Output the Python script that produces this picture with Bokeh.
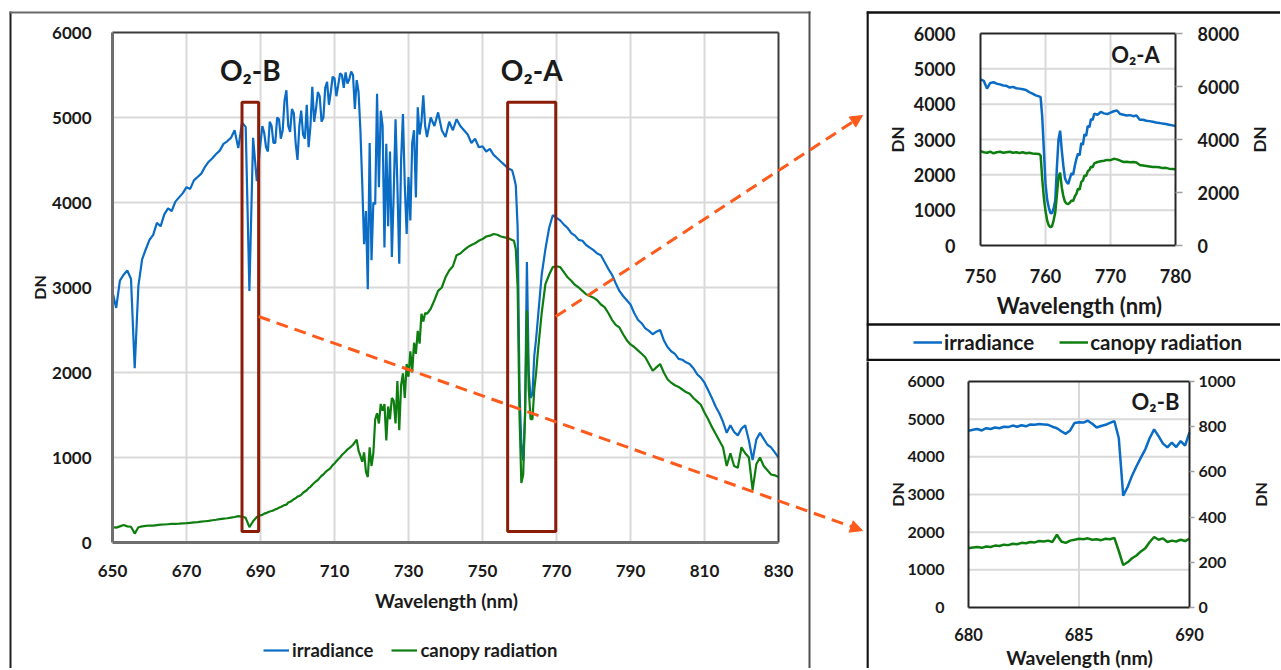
import math
from bokeh.plotting import figure
from bokeh.models import (Range1d, LinearAxis, FixedTicker, Legend, LegendItem,
                          Label, Arrow, NormalHead, BoxAnnotation)
from bokeh.layouts import row, column
from bokeh.embed import file_html
from bokeh.resources import INLINE

# ---------------- data: main spectrum (650-830 nm) ----------------
wl_main = [650, 651, 652, 653, 654, 655, 656, 657, 658, 659,
           660, 661, 662, 663, 664, 665, 666, 667, 668, 669,
           670, 671, 672, 673, 674, 675, 676, 677, 678, 679,
           680, 681, 682, 683, 684, 685, 686, 687, 688, 689,
           690, 690.5, 691, 691.5, 692, 692.5, 693, 693.5, 694, 694.5,
           695, 695.5, 696, 696.5, 697, 697.5, 698, 698.5, 699, 699.5,
           700, 700.5, 701, 701.5, 702, 702.5, 703, 703.5, 704, 704.5,
           705, 705.5, 706, 706.5, 707, 707.5, 708, 708.5, 709, 709.5,
           710, 710.5, 711, 711.5, 712, 712.5, 713, 713.5, 714, 714.5, 715,
           715.5, 716, 716.5, 717, 717.5, 718, 718.5, 719, 719.5, 720,
           720.5, 721, 721.5, 722, 722.5, 723, 723.5, 724, 724.5, 725,
           725.5, 726, 726.5, 727, 727.5, 728, 728.5, 729, 729.5, 730,
           730.5, 731, 731.5, 732, 732.5, 733, 733.5, 734, 734.5, 735,
           736, 737, 738, 739, 740, 741, 742, 743, 744, 745,
           746, 747, 748, 749, 750, 751, 752, 753, 754, 755,
           756, 757, 758,
           758.5, 759, 759.5, 760, 760.5, 761, 761.5, 762, 762.5, 763, 763.5, 764, 764.5, 765,
           766, 767, 768, 769, 770, 771, 772, 773, 774, 775,
           776, 777, 778, 779, 780, 781, 782, 783, 784, 785,
           786, 787, 788, 789, 790, 791, 792, 793, 794, 795,
           796, 797, 798, 799, 800, 801, 802, 803, 804, 805,
           806, 807, 808, 809, 810, 811, 812, 813, 814, 815,
           816, 817, 818, 819, 820, 821, 822, 823, 824, 825,
           826, 827, 828, 829, 830]

irradiance_main = [2950, 2760, 3080, 3150, 3200, 3100, 2050, 3020, 3330, 3450,
                   3560, 3620, 3760, 3720, 3860, 3930, 3900, 4010, 4060, 4110,
                   4180, 4160, 4260, 4300, 4340, 4420, 4480, 4520, 4570, 4610,
                   4690, 4720, 4760, 4850, 4640, 4940, 4890, 2960, 4760, 4250,
                   4700, 4900, 4820, 4650, 4600, 4950, 4900, 4700, 4700, 5000,
                   4980, 4750, 4850, 5200, 5320, 4900, 4830, 5100, 5050, 4700,
                   4500, 4900, 5080, 4800, 4750, 5150, 4650, 4900, 5360, 4950,
                   5100, 5300, 5250, 4950, 5000, 5350, 5420, 5150, 5300, 5480,
                   5460, 5250, 5380, 5520, 5500, 5350, 5530, 5400, 5450, 5540, 5500,
                   5100, 5440, 5300, 4850, 4220, 3510, 3900, 2980, 4700, 3320,
                   4000, 3980, 5280, 4180, 5080, 4900, 3470, 4690, 3720, 4600,
                   3360, 4100, 4980, 4200, 3280, 4500, 5040, 4200, 3630, 4300,
                   3790, 4700, 4850, 4060, 5120, 4800, 4950, 5260, 4900, 4770,
                   5000, 4900, 5060, 4850, 4770, 4950, 4850, 4980, 4900, 4850,
                   4800, 4700, 4750, 4650, 4660, 4600, 4630, 4560, 4520, 4480,
                   4440, 4400, 4380,
                   4300, 4200, 3700, 1800, 1150, 965, 1500, 3300, 2000, 1700, 1750, 2200, 2400, 2650,
                   3150, 3450, 3700, 3850, 3820, 3790, 3740, 3700, 3640, 3610,
                   3560, 3550, 3500, 3470, 3440, 3400, 3380, 3300, 3220, 3150,
                   3050, 2960, 2900, 2850, 2800, 2700, 2620, 2580, 2520, 2490,
                   2450, 2480, 2500, 2380, 2300, 2250, 2220, 2160, 2150, 2120,
                   2100, 2050, 1980, 1940, 1880, 1790, 1700, 1600, 1520, 1420,
                   1290, 1380, 1300, 1260, 1340, 1380, 1200, 970, 1210, 1290,
                   1220, 1150, 1120, 1060, 1000]

canopy_main = [180, 175, 190, 205, 190, 185, 105, 180, 190, 195,
               200, 198, 205, 210, 212, 215, 218, 220, 222, 225,
               228, 232, 236, 240, 245, 250, 255, 262, 268, 275,
               280, 285, 292, 300, 310, 305, 290, 180, 250, 300,
               320, 325, 340, 345, 355, 365, 370, 378, 390, 398,
               410, 418, 430, 440, 445, 470, 480, 492, 510, 520,
               540, 548, 560, 585, 600, 615, 640, 655, 680, 700,
               720, 735, 760, 785, 800, 825, 845, 860, 880, 910,
               930, 955, 980, 1000, 1030, 1050, 1070, 1095, 1110, 1130, 1150,
               1180, 1210, 1080, 1020, 950, 1060, 830, 770, 1120, 900,
               1050, 1450, 1520, 1400, 1630, 1550, 1630, 1200, 1600, 1450,
               1700, 1670, 1400, 1900, 1320, 1850, 1990, 1700, 2100, 1950,
               2250, 2000, 2350, 2220, 2490, 2340, 2690, 2600, 2700, 2690,
               2750, 2850, 2960, 3000, 3120, 3200, 3250, 3380, 3400, 3440,
               3475, 3500, 3520, 3550, 3570, 3600, 3610, 3630, 3620, 3600,
               3590, 3580, 3560,
               3550, 3450, 3000, 1500, 700, 800, 1500, 2730, 1800, 1450, 1450, 1800, 2000, 2260,
               2700, 3040, 3150, 3240, 3250, 3240, 3180, 3120, 3080, 3030,
               3000, 2960, 2920, 2900, 2880, 2850, 2800, 2770, 2700, 2620,
               2560, 2530, 2450, 2380, 2330, 2300, 2260, 2220, 2180, 2100,
               2020, 2060, 2100, 2000, 1920, 1880, 1850, 1830, 1800, 1770,
               1750, 1700, 1660, 1620, 1530, 1450, 1360, 1280, 1200, 1120,
               900, 1050, 900, 880, 1120, 1050, 1000, 620, 920, 1000,
               900, 850, 800, 790, 770]

# ---------------- data: O2-A inset (750-780 nm) ----------------
wl_a = [750, 750.5, 751, 751.5, 752, 752.5, 753, 753.5, 754, 754.5,
        755, 755.5, 756, 756.5, 757, 757.5, 758, 758.5, 759,
        759.25, 759.5, 759.75, 760, 760.25, 760.5, 760.75, 761, 761.25, 761.5,
        761.75, 762, 762.25, 762.5, 762.75, 763, 763.25, 763.5, 763.75, 764,
        764.25, 764.5, 764.75, 765, 765.25, 765.5, 765.75, 766, 766.25, 766.5,
        766.75, 767, 767.25, 767.5,
        768, 768.5, 769, 769.5, 770, 770.5, 771, 771.5, 772, 772.5,
        773, 773.5, 774, 774.5, 775, 775.5, 776, 776.5, 777, 777.5,
        778, 778.5, 779, 779.5, 780]
irradiance_a = [4700, 4660, 4440, 4600, 4620, 4580, 4560, 4530, 4520, 4470,
                4490, 4450, 4440, 4420, 4400, 4340, 4300, 4250, 4220,
                4200, 3630, 2690, 1750, 1300, 1080, 920, 910, 1050, 1280,
                2200, 3000, 3250, 2700, 2250, 1900, 1800, 1740, 1900, 2050,
                2000, 2250, 2450, 2600, 2550, 2900, 2850, 3150, 3100, 3380,
                3350, 3580, 3550, 3730,
                3700, 3780, 3740, 3720, 3760, 3800, 3820, 3720, 3700, 3680,
                3690, 3660, 3680, 3560, 3560, 3530, 3520, 3500, 3480, 3470,
                3450, 3440, 3420, 3400, 3380]
canopy_a = [3560, 3520, 3500, 3540, 3480, 3520, 3540, 3500, 3520, 3540,
            3500, 3520, 3490, 3520, 3480, 3500, 3470, 3460, 3450,
            3400, 2500, 1800, 1300, 950, 760, 690, 720, 950, 1250,
            1900, 2600, 2750, 2200, 1850, 1650, 1580, 1560, 1620, 1700,
            1680, 1850, 1950, 2150, 2100, 2400, 2450, 2650, 2620, 2800,
            2850, 2980, 2950, 3100,
            3150, 3180, 3200, 3230, 3220, 3270, 3250, 3200, 3150, 3160,
            3140, 3150, 3130, 3040, 3020, 3000, 2980, 2960, 2960, 2950,
            2920, 2930, 2900, 2890, 2880]

# ---------------- data: O2-B inset (680-690 nm) ----------------
wl_b = [680.0, 680.2, 680.4, 680.6, 680.8, 681.0, 681.2, 681.4, 681.6, 681.8,
        682.0, 682.2, 682.4, 682.6, 682.8, 683.0, 683.2, 683.4, 683.6, 683.8,
        684.0, 684.2, 684.4, 684.6, 684.8, 685.0, 685.2, 685.4, 685.6, 685.8,
        686.0, 686.2, 686.4, 686.6, 686.8, 687.0, 687.2, 687.4, 687.6, 687.8,
        688.0, 688.2, 688.4, 688.6, 688.8, 689.0, 689.2, 689.4, 689.6, 689.8,
        690.0]
irradiance_b = [4690, 4720, 4740, 4700, 4760, 4740, 4780, 4760, 4800, 4790,
                4830, 4800, 4840, 4810, 4860, 4850, 4870, 4860, 4850, 4800,
                4760, 4680, 4610, 4700, 4900, 4920, 4910, 4960, 4880, 4780,
                4820, 4850, 4900, 4950, 4500, 2970, 3200, 3500, 3750, 3980,
                4200, 4500, 4730, 4550, 4350, 4250, 4380, 4260, 4420, 4300,
                4650]
canopy_b = [262, 265, 268, 264, 270, 268, 274, 272, 278, 276,
            282, 280, 286, 284, 290, 288, 294, 292, 296, 290,
            322, 292, 286, 296, 300, 304, 302, 306, 300, 302,
            298, 304, 302, 308, 250, 188, 200, 218, 230, 248,
            262, 290, 312, 300, 306, 290, 296, 292, 300, 294,
            305]

# ticks / labels
main_x_ticks = [650, 670, 690, 710, 730, 750, 770, 790, 810, 830]
dn_ticks = [0, 1000, 2000, 3000, 4000, 5000, 6000]
a_x_ticks = [750, 760, 770, 780]
a_right_ticks = [0, 2000, 4000, 6000, 8000]
b_x_ticks = [680, 685, 690]
b_right_ticks = [0, 200, 400, 600, 800, 1000]
series_names = ["irradiance", "canopy radiation"]
x_title = "Wavelength (nm)"
y_title = "DN"

# O2 absorption windows marked on the main chart (nm, DN)
O2B_BOX = (685.0, 689.5, 130, 5180)
O2A_BOX = (756.8, 769.8, 130, 5180)

# ---------------- styles ----------------
FONT = "Lato"
BLUE = "#0A6CC4"
GREEN = "#0E7E10"
BROWN = "#8A1C08"
ORANGE = "#FF5A1C"
GRID = "#D9D9D9"
TXT = "#1A1A1A"

# page pixel -> data helpers (used only for decorative placement)
def mx(px): return 650 + (px - 112) * 180 / 666
def my(py): return (542 - py) * 6000 / 510
def ax_(px): return 750 + (px - 980) * 30 / 195
def ay(py): return (245 - py) * 6000 / 212
def bx(px): return 680 + (px - 968) * 10 / 221
def by(py): return (607 - py) * 6000 / 226


def base_fig(w, h, xr, yr):
    f = figure(width=w, height=h, x_range=Range1d(*xr), y_range=Range1d(*yr),
               output_backend="svg", toolbar_location=None, min_border=0,
               min_border_left=0, min_border_right=0, min_border_top=0, min_border_bottom=0)
    f.outline_line_color = None
    f.xgrid.visible = False
    f.ygrid.visible = False
    f.background_fill_color = "white"
    f.border_fill_color = "white"
    return f


def style_axis(ax, size, standoff, ticks_out=0):
    ax.major_label_text_font = FONT
    ax.major_label_text_font_style = "bold"
    ax.major_label_text_font_size = size
    ax.major_label_text_color = TXT
    ax.major_label_standoff = standoff
    ax.minor_tick_line_color = None
    ax.axis_line_color = None
    if ticks_out:
        ax.major_tick_out = ticks_out
        ax.major_tick_in = 0
        ax.major_tick_line_color = "#A0A0A0"
        ax.major_tick_line_width = 1.5
    else:
        ax.major_tick_line_color = None


def seg(f, x0, y0, x1, y1, color="#1A1A1A", width=2, **kw):
    f.segment(x0=[x0], y0=[y0], x1=[x1], y1=[y1], line_color=color, line_width=width, **kw)


def grid(f, xt, x0, x1, yt, y0, y1):
    f.segment(x0=xt, y0=[y0] * len(xt), x1=xt, y1=[y1] * len(xt), line_color=GRID, line_width=2)
    f.segment(x0=[x0] * len(yt), y0=yt, x1=[x1] * len(yt), y1=yt, line_color=GRID, line_width=2)


def text(f, x, y, s, size, angle=0, align="center", baseline="middle"):
    f.add_layout(Label(x=x, y=y, text=s, text_align=align, text_baseline=baseline, angle=angle,
                       text_font=FONT, text_font_style="bold", text_font_size=size, text_color=TXT))


# ================= main chart =================
W_MAIN, H = 866, 668
p = base_fig(W_MAIN, H, (mx(0), mx(W_MAIN)), (my(H), my(0)))
p.xaxis.ticker = FixedTicker(ticks=main_x_ticks)
p.yaxis.ticker = FixedTicker(ticks=dn_ticks)
p.xaxis.fixed_location = dn_ticks[0]
p.yaxis.fixed_location = main_x_ticks[0]
style_axis(p.xaxis[0], "17px", 16)
style_axis(p.yaxis[0], "17px", 15)

X0, X1, Y0, Y1 = main_x_ticks[0], main_x_ticks[-1], dn_ticks[0], dn_ticks[-1]
grid(p, main_x_ticks[1:-1], X0, X1, dn_ticks[1:-1], Y0, Y1)
r_irr = p.line(wl_main, irradiance_main, line_color=BLUE, line_width=2.2)
r_can = p.line(wl_main, canopy_main, line_color=GREEN, line_width=2.2)
# plot-area frame
seg(p, X0, Y1, X1, Y1, "#3C3C3C", 2)
seg(p, X1, Y0, X1, Y1, "#3C3C3C", 2)
seg(p, X0, Y0, X1, Y0, "#6E6E6E", 3)
seg(p, X0, Y0, X0, Y1, "#6E6E6E", 3)

for box in (O2B_BOX, O2A_BOX):
    p.add_layout(BoxAnnotation(left=box[0], right=box[1], bottom=box[2], top=box[3],
                               fill_alpha=0, line_color=BROWN, line_width=3, line_alpha=1))

text(p, (O2B_BOX[0] + O2B_BOX[1]) / 2, my(69), "O₂-B", "28px", baseline="alphabetic")
text(p, (O2A_BOX[0] + O2A_BOX[1]) / 2, my(69), "O₂-A", "28px", baseline="alphabetic")
text(p, mx(39), my(287), y_title, "16px", angle=math.pi / 2)
text(p, mx(446), my(600), x_title, "19px")

# dashed pointer arrows to the insets
for (xs, ys, xe, ye) in [(O2A_BOX[1], my(316), mx(862), my(115)),
                         (O2B_BOX[1], my(316), mx(862), my(530))]:
    p.add_layout(Arrow(x_start=xs, y_start=ys, x_end=xe, y_end=ye,
                       line_color=ORANGE, line_width=3, line_dash="12 7",
                       end=NormalHead(size=12, fill_color=ORANGE, line_color=ORANGE, line_width=1)))

# outer chart border
seg(p, mx(10), my(11), mx(10), my(H + 5), "#202020", 2)
seg(p, mx(9), my(12), mx(810), my(12), "#6A6A6A", 2)
seg(p, mx(809), my(11), mx(809), my(H + 5), "#505050", 2)

leg = Legend(items=[LegendItem(label=series_names[0], renderers=[r_irr]),
                    LegendItem(label=series_names[1], renderers=[r_can])],
             orientation="horizontal", location=(263, 7),
             background_fill_alpha=0, border_line_alpha=0, padding=0, margin=0,
             glyph_width=26, label_standoff=3, spacing=18,
             label_text_font=FONT, label_text_font_style="bold", label_text_font_size="18.5px",
             label_text_color=TXT)
p.add_layout(leg)

# ================= inset O2-A =================
W_IN, H_A = 414, 361
pa = base_fig(W_IN, H_A, (ax_(866), ax_(866 + W_IN)), (ay(H_A), ay(0)))
pa.extra_y_ranges = {"right": Range1d(ay(H_A) * 8000 / 6000, ay(0) * 8000 / 6000)}
pa.xaxis.ticker = FixedTicker(ticks=a_x_ticks)
pa.yaxis.ticker = FixedTicker(ticks=dn_ticks)
pa.xaxis.fixed_location = dn_ticks[0]
pa.yaxis.fixed_location = a_x_ticks[0]
style_axis(pa.xaxis[0], "18px", 17)
style_axis(pa.yaxis[0], "18px", 19)
ra_axis = LinearAxis(y_range_name="right", ticker=FixedTicker(ticks=a_right_ticks),
                     fixed_location=a_x_ticks[-1])
style_axis(ra_axis, "18px", 15, ticks_out=7)
pa.add_layout(ra_axis, "right")

AX0, AX1 = a_x_ticks[0], a_x_ticks[-1]
grid(pa, a_x_ticks[1:-1], AX0, AX1, dn_ticks[1:-1], Y0, Y1)
ra_irr = pa.line(wl_a, irradiance_a, line_color=BLUE, line_width=2.5)
ra_can = pa.line(wl_a, canopy_a, line_color=GREEN, line_width=2.5, y_range_name="right")
for (a, b, c, d) in [(AX0, Y0, AX1, Y0), (AX0, Y1, AX1, Y1), (AX0, Y0, AX0, Y1), (AX1, Y0, AX1, Y1)]:
    seg(pa, a, b, c, d, "#262626", 2)

text(pa, ax_(1135), ay(54), "O₂-A", "22px", baseline="alphabetic")
text(pa, ax_(897), ay(139), y_title, "17px", angle=math.pi / 2)
text(pa, ax_(1259), ay(139), y_title, "17px", angle=math.pi / 2)
text(pa, ax_(1079), ay(305), x_title, "22px")

leg2 = Legend(items=[LegendItem(label=series_names[0], renderers=[ra_irr]),
                     LegendItem(label=series_names[1], renderers=[ra_can])],
              orientation="horizontal", location=(47, 7),
              background_fill_alpha=0, border_line_alpha=0, padding=0, margin=0,
              glyph_width=29, label_standoff=2, spacing=25,
              label_text_font=FONT, label_text_font_style="bold", label_text_font_size="20.5px",
              label_text_color=TXT)
pa.add_layout(leg2)

# box lines around the inset column
seg(pa, ax_(867), ay(11), ax_(867), ay(H_A + 5), "#111111", 2.5)
seg(pa, ax_(866), ay(12), ax_(1300), ay(12), "#111111", 2.5)
seg(pa, ax_(866), ay(324), ax_(1300), ay(324), "#111111", 2.5)
seg(pa, ax_(866), ay(359.5), ax_(1300), ay(359.5), "#111111", 2.5)

# ================= inset O2-B =================
H_B = H - H_A
pb = base_fig(W_IN, H_B, (bx(866), bx(866 + W_IN)), (by(H), by(H_A)))
pb.extra_y_ranges = {"right": Range1d(by(H) * 1000 / 6000, by(H_A) * 1000 / 6000)}
pb.xaxis.ticker = FixedTicker(ticks=b_x_ticks)
pb.yaxis.ticker = FixedTicker(ticks=dn_ticks)
pb.xaxis.fixed_location = dn_ticks[0]
pb.yaxis.fixed_location = b_x_ticks[0]
style_axis(pb.xaxis[0], "16.5px", 14)
style_axis(pb.yaxis[0], "16px", 18)
rb_axis = LinearAxis(y_range_name="right", ticker=FixedTicker(ticks=b_right_ticks),
                     fixed_location=b_x_ticks[-1])
style_axis(rb_axis, "16px", 4, ticks_out=5)
pb.add_layout(rb_axis, "right")

BX0, BX1 = b_x_ticks[0], b_x_ticks[-1]
grid(pb, b_x_ticks[1:-1], BX0, BX1, dn_ticks[1:-1], Y0, Y1)
pb.line(wl_b, irradiance_b, line_color=BLUE, line_width=2.5)
pb.line(wl_b, canopy_b, line_color=GREEN, line_width=2.5, y_range_name="right")
for (a, b, c, d) in [(BX0, Y0, BX1, Y0), (BX0, Y1, BX1, Y1), (BX0, Y0, BX0, Y1), (BX1, Y0, BX1, Y1)]:
    seg(pb, a, b, c, d, "#262626", 2)

text(pb, bx(1155), by(401), "O₂-B", "22px", baseline="alphabetic")
text(pb, bx(897), by(494), y_title, "16px", angle=math.pi / 2)
text(pb, bx(1260), by(494), y_title, "16px", angle=math.pi / 2)
text(pb, bx(1079), by(657), x_title, "19.5px")
seg(pb, bx(867), by(H_A - 5), bx(867), by(H + 5), "#111111", 2.5)

layout = row(p, column(pa, pb))
open("out.html", "w").write(file_html(layout, INLINE))
